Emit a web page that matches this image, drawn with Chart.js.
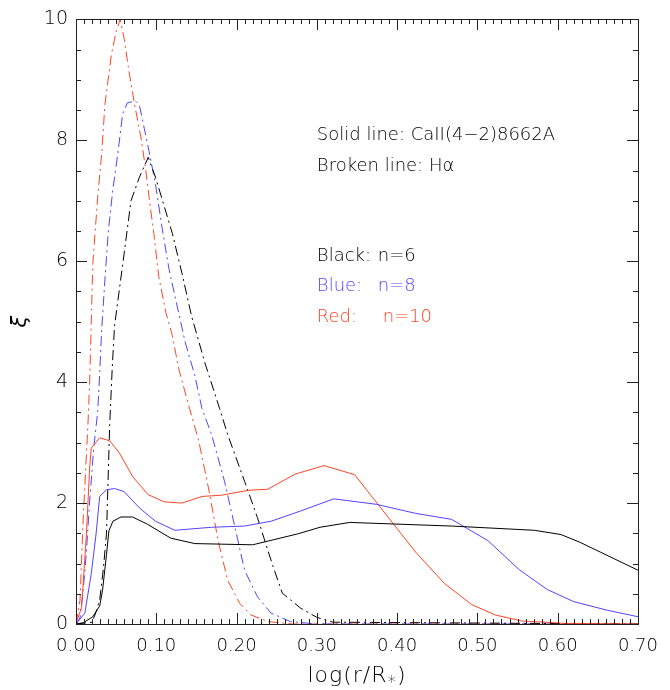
<!DOCTYPE html>
<html>
<head>
<meta charset="utf-8">
<script src="https://cdn.jsdelivr.net/npm/chart.js@4.4.1/dist/chart.umd.min.js"></script>
<style>
  html, body { margin: 0; padding: 0; background: #fff; }
  #wrap { width: 670px; height: 690px; }
</style>
</head>
<body>
<div id="wrap"><canvas id="xi-chart" width="670" height="690"></canvas></div>
<script>
/**
 * Values: log(r/R*) against xi
 */

// CaII(4-2)8662A, solid lines
const caN6X = [0, 0.009, 0.021, 0.0295, 0.033, 0.038, 0.041, 0.046, 0.056, 0.0705, 0.089, 0.118, 0.148, 0.22, 0.276, 0.304, 0.341, 0.468, 0.571, 0.604, 0.628, 0.653, 0.70];
const caN6Y = [0, 0.02, 0.12, 0.30, 0.55, 1.15, 1.54, 1.70, 1.77, 1.77, 1.65, 1.42, 1.33, 1.31, 1.49, 1.60, 1.68, 1.62, 1.55, 1.48, 1.35, 1.19, 0.89];

const caN8X = [0, 0.011, 0.019, 0.025, 0.0295, 0.038, 0.048, 0.060, 0.079, 0.099, 0.123, 0.169, 0.21, 0.243, 0.28, 0.321, 0.374, 0.423, 0.468, 0.513, 0.552, 0.587, 0.62, 0.661, 0.70];
const caN8Y = [0, 0.18, 0.83, 1.49, 2.11, 2.22, 2.24, 2.19, 1.92, 1.70, 1.55, 1.60, 1.62, 1.70, 1.87, 2.07, 1.98, 1.83, 1.73, 1.38, 0.90, 0.57, 0.37, 0.23, 0.12];

const caN10X = [0, 0.007, 0.013, 0.017, 0.019, 0.0295, 0.042, 0.054, 0.0705, 0.0898, 0.110, 0.132, 0.157, 0.181, 0.214, 0.239, 0.273, 0.309, 0.347, 0.423, 0.459, 0.493, 0.522, 0.555, 0.61, 0.70];
const caN10Y = [0, 0.28, 1.49, 2.58, 2.91, 3.08, 3.03, 2.83, 2.44, 2.14, 2.02, 2.0, 2.11, 2.13, 2.21, 2.23, 2.48, 2.62, 2.47, 1.19, 0.67, 0.32, 0.15, 0.05, 0.01, 0];

// H alpha, broken lines
const haN6X = [0, 0.02, 0.025, 0.0295, 0.034, 0.038, 0.040, 0.042, 0.045, 0.048, 0.054, 0.060, 0.0685, 0.079, 0.090, 0.099, 0.109, 0.12, 0.132, 0.144, 0.161, 0.179, 0.189, 0.21, 0.226, 0.245, 0.257, 0.28, 0.30, 0.32, 0.70];
const haN6Y = [0, 0.03, 0.2, 0.4, 0.9, 1.5, 2.4, 3.3, 4.2, 4.93, 5.53, 6.13, 7.0, 7.39, 7.72, 7.39, 6.95, 6.46, 5.8, 5.09, 4.3, 3.56, 3.13, 2.36, 1.76, 0.97, 0.51, 0.26, 0.11, 0.03, 0];

const haN8X = [0, 0.005, 0.009, 0.013, 0.017, 0.022, 0.027, 0.029, 0.032, 0.036, 0.040, 0.046, 0.052, 0.058, 0.064, 0.074, 0.079, 0.085, 0.091, 0.099, 0.107, 0.116, 0.126, 0.136, 0.148, 0.157, 0.169, 0.185, 0.198, 0.21, 0.226, 0.243, 0.267, 0.30, 0.70];
const haN8Y = [0, 0.1, 0.56, 1.2, 2.03, 2.9, 3.51, 4.0, 4.87, 5.69, 6.46, 7.2, 7.77, 8.43, 8.62, 8.65, 8.58, 8.2, 7.82, 7.28, 6.57, 5.86, 5.26, 4.66, 4.11, 3.56, 3.13, 2.36, 1.60, 0.89, 0.45, 0.18, 0.04, 0, 0];

const haN10X = [0, 0.005, 0.009, 0.015, 0.017, 0.021, 0.027, 0.032, 0.036, 0.044, 0.050, 0.055, 0.060, 0.066, 0.073, 0.081, 0.087, 0.092, 0.097, 0.103, 0.112, 0.12, 0.128, 0.138, 0.153, 0.165, 0.177, 0.189, 0.204, 0.218, 0.239, 0.27, 0.70];
const haN10Y = [0, 0.39, 1.76, 3.34, 4.0, 5.97, 7.06, 7.77, 8.59, 9.41, 9.8, 10.0, 9.68, 9.14, 8.59, 8.04, 7.5, 6.95, 6.46, 5.75, 5.15, 4.77, 4.22, 3.73, 3.02, 2.25, 1.38, 0.72, 0.34, 0.15, 0.04, 0, 0];

// Axis ranges and ticks
const xRange = [0, 0.7];
const yRange = [0, 10];
const xMajorStep = 0.1, xMinorStep = 0.01;
const yMajorStep = 2, yMinorStep = 0.5;

// Notes written inside the plot: [text, x, y, colour key]
const notes = [
  ['Solid line: CaII(4\u22122)8662A', 0.30, 8.0, 'black'],
  ['Broken line: H\u03b1', 0.30, 7.5, 'black'],
  ['Black:', 0.30, 6.0, 'black'], ['n=6', 0.376, 6.0, 'black'],
  ['Blue:', 0.30, 5.5, 'blue'], ['n=8', 0.376, 5.5, 'blue'],
  ['Red:', 0.30, 5.0, 'red'], ['n=10', 0.382, 5.0, 'red']
];

const COLORS = { black: '#000000', blue: '#5244ff', red: '#ff4526' };
const FONT = '"DejaVu Sans", sans-serif';
const WEIGHT = '200';
const DASH_DOT = [10, 4, 2, 4];
const AXIS_COLOR = '#222222';

function points(xs, ys) {
  return xs.map((x, i) => ({ x: x, y: ys[i] }));
}

function line(xs, ys, color, dashed) {
  return {
    data: points(xs, ys),
    borderColor: color,
    borderWidth: 1,
    borderDash: dashed ? DASH_DOT : [],
    pointRadius: 0,
    tension: 0,
    fill: false
  };
}

function font(size, extra) {
  return (extra ? extra + ' ' : '') + WEIGHT + ' ' + size + 'px ' + FONT;
}

/**
 * Frame with inward ticks on the four sides (filled 1px bars), notes and titles
 */
const idlFrame = {
  id: 'idlFrame',
  afterDraw(chart) {
    const ctx = chart.ctx;
    const a = chart.chartArea;
    const xs = chart.scales.x;
    const ys = chart.scales.y;
    const L = Math.round(a.left), R = Math.round(a.right);
    const T = Math.round(a.top), B = Math.round(a.bottom);

    ctx.save();
    ctx.globalAlpha = 1;
    ctx.fillStyle = AXIS_COLOR;

    // Box
    ctx.fillRect(L, T, R - L + 1, 1);
    ctx.fillRect(L, B, R - L + 1, 1);
    ctx.fillRect(L, T, 1, B - T + 1);
    ctx.fillRect(R, T, 1, B - T + 1);

    // Ticks on x, bottom and top
    const nx = Math.round((xRange[1] - xRange[0]) / xMinorStep);
    const perX = Math.round(xMajorStep / xMinorStep);
    for (let i = 0; i <= nx; i++) {
      const px = Math.round(xs.getPixelForValue(xRange[0] + i * xMinorStep));
      const len = i % perX === 0 ? 11 : 5;
      ctx.fillRect(px, B - len, 1, len);
      ctx.fillRect(px, T, 1, len);
    }
    // Ticks on y, left and right
    const ny = Math.round((yRange[1] - yRange[0]) / yMinorStep);
    const perY = Math.round(yMajorStep / yMinorStep);
    for (let i = 0; i <= ny; i++) {
      const py = Math.round(ys.getPixelForValue(yRange[0] + i * yMinorStep));
      const len = i % perY === 0 ? 11 : 5;
      ctx.fillRect(L, py, len, 1);
      ctx.fillRect(R - len, py, len, 1);
    }

    // Notes
    ctx.font = font(18);
    ctx.textBaseline = 'alphabetic';
    ctx.textAlign = 'left';
    notes.forEach(([text, vx, vy, key]) => {
      ctx.fillStyle = COLORS[key];
      ctx.fillText(text, xs.getPixelForValue(vx), ys.getPixelForValue(vy));
    });

    // X title: log(r/R*) with a lowered star
    ctx.fillStyle = '#000';
    ctx.letterSpacing = '1px';
    const main = 'log(r/R';
    ctx.font = font(22);
    const wMain = ctx.measureText(main).width;
    const wEnd = ctx.measureText(')').width;
    ctx.font = font(17);
    const wStar = ctx.measureText('*').width;
    let tx = (a.left + a.right) / 2 - (wMain + wStar + wEnd) / 2;
    const base = 682;
    ctx.font = font(22);
    ctx.fillText(main, tx, base);
    tx += wMain;
    ctx.font = font(17);
    ctx.fillText('*', tx, base + 6);
    tx += wStar;
    ctx.font = font(22);
    ctx.fillText(')', tx, base);
    ctx.letterSpacing = '0px';

    // Y title: xi, turned
    ctx.translate(21, (a.top + a.bottom) / 2);
    ctx.rotate(-Math.PI / 2);
    ctx.textAlign = 'center';
    ctx.textBaseline = 'middle';
    ctx.font = font(21, 'italic');
    ctx.fillText('\u03be', 0, 0);

    ctx.restore();
  }
};

new Chart(document.getElementById('xi-chart'), {
  type: 'line',
  data: {
    datasets: [
      line(caN6X, caN6Y, COLORS.black, false),
      line(caN8X, caN8Y, COLORS.blue, false),
      line(caN10X, caN10Y, COLORS.red, false),
      line(haN6X, haN6Y, COLORS.black, true),
      line(haN8X, haN8Y, COLORS.blue, true),
      line(haN10X, haN10Y, COLORS.red, true)
    ]
  },
  options: {
    responsive: false,
    animation: false,
    events: [],
    layout: { padding: { left: 0, right: 25, top: 14, bottom: 0 } },
    plugins: {
      legend: { display: false },
      tooltip: { enabled: false }
    },
    scales: {
      x: {
        type: 'linear',
        min: xRange[0],
        max: xRange[1],
        grid: { display: false, drawTicks: false },
        border: { display: false },
        ticks: {
          stepSize: xMajorStep,
          padding: 12,
          color: '#000',
          font: { family: FONT, size: 18, weight: WEIGHT },
          maxRotation: 0,
          callback: v => v.toFixed(2)
        },
        afterFit(scale) { scale.height = 66; }
      },
      y: {
        type: 'linear',
        min: yRange[0],
        max: yRange[1],
        grid: { display: false, drawTicks: false },
        border: { display: false },
        ticks: {
          stepSize: yMajorStep,
          padding: 8,
          color: '#000',
          font: { family: FONT, size: 19, weight: WEIGHT },
          callback: v => String(v)
        },
        afterFit(scale) { scale.width = 76; }
      }
    }
  },
  plugins: [idlFrame]
});
</script>
</body>
</html>
